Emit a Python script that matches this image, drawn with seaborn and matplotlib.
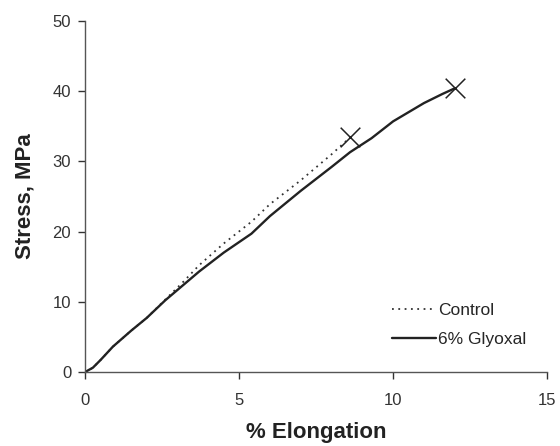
import numpy as np
import pandas as pd
import matplotlib
matplotlib.use("Agg")
import matplotlib.pyplot as plt
import seaborn as sns

# stress-strain curves
control_elong = [0, 0.25, 0.5, 0.9, 1.5, 2.0, 2.6, 3.2, 3.7, 4.5, 5.4, 6.0, 7.0, 8.0, 8.6]
control_stress = [0, 0.6, 1.7, 3.6, 5.9, 7.7, 10.3, 12.9, 15.2, 18.3, 21.4, 23.9, 27.3, 31.0, 33.4]

glyoxal_elong = [0, 0.25, 0.5, 0.9, 1.5, 2.0, 2.6, 3.7, 4.5, 5.4, 6.0, 7.0, 8.0, 8.6, 9.3, 10.0, 11.0, 11.6, 12.0]
glyoxal_stress = [0, 0.6, 1.7, 3.6, 5.9, 7.7, 10.2, 14.3, 17.0, 19.7, 22.2, 25.8, 29.2, 31.3, 33.3, 35.7, 38.3, 39.6, 40.4]

x_ticks = [0, 5, 10, 15]
y_ticks = [0, 10, 20, 30, 40, 50]


def main():
    sns.set_style("ticks")
    plt.rcParams['font.family'] = ['Liberation Sans', 'DejaVu Sans']

    control = pd.DataFrame({'Elongation': control_elong, 'Stress': control_stress})
    glyoxal = pd.DataFrame({'Elongation': glyoxal_elong, 'Stress': glyoxal_stress})

    fig = plt.figure(figsize=(5.6, 4.46), dpi=100)
    ax = fig.add_axes([0.152, 0.166, 0.825, 0.787])

    sns.lineplot(data=control, x='Elongation', y='Stress', sort=False, ax=ax,
                 color='#333333', linewidth=1.3, linestyle=(0, (1, 2.5)), label='Control')
    sns.lineplot(data=glyoxal, x='Elongation', y='Stress', sort=False, ax=ax,
                 color='#222222', linewidth=1.7, label='6% Glyoxal')

    # break points marked with an x
    ends = pd.DataFrame({'Elongation': [control_elong[-1], glyoxal_elong[-1]],
                         'Stress': [control_stress[-1], glyoxal_stress[-1]]})
    sns.scatterplot(data=ends, x='Elongation', y='Stress', marker='x', s=200,
                    color='#222222', linewidth=1.1, ax=ax, legend=False, zorder=5)

    ax.set_xlim(0, 15)
    ax.set_ylim(0, 50)
    ax.set_xticks(x_ticks)
    ax.set_yticks(y_ticks)
    ax.tick_params(axis='both', labelsize=12, colors='#333333', length=5, width=1)
    ax.tick_params(axis='x', pad=10)
    ax.tick_params(axis='y', pad=5)
    for side in ['left', 'bottom']:
        ax.spines[side].set_color('#555555')
        ax.spines[side].set_linewidth(1)
    sns.despine(ax=ax)

    ax.set_xlabel('% Elongation', fontsize=16, fontweight='bold', color='#222222', labelpad=10)
    ax.set_ylabel('Stress, MPa', fontsize=16, fontweight='bold', color='#222222', labelpad=12)

    ax.legend(loc='center left', bbox_to_anchor=(0.665, 0.134), frameon=False, fontsize=12.5,
              handlelength=2.5, handletextpad=0.15, labelspacing=0.75,
              borderpad=0, borderaxespad=0)

    fig.savefig('out.png', dpi=100)


if __name__ == "__main__":
    main()
